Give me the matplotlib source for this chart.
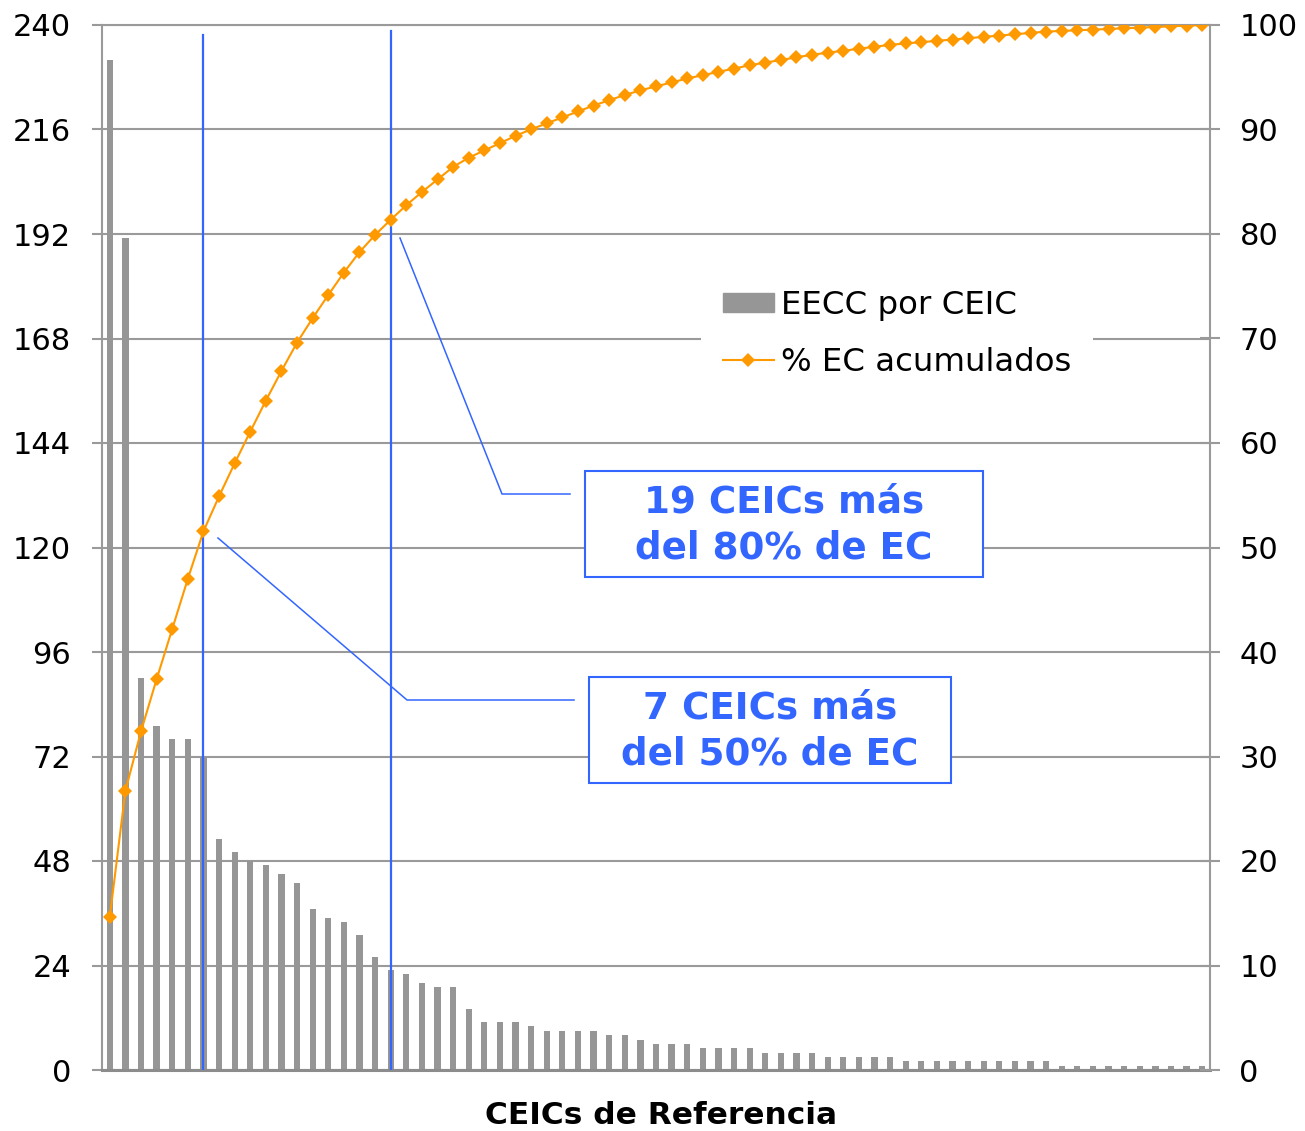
import numpy as np
import matplotlib
matplotlib.use("Agg")
import matplotlib.pyplot as plt
from matplotlib.lines import Line2D
from matplotlib.patches import Rectangle

# ---------------- data ----------------
eecc_por_ceic = [232, 191, 90, 79, 76, 76, 72, 53, 50, 48, 47, 45, 43, 37, 35, 34,
                 31, 26, 23, 22, 20, 19, 19, 14, 11, 11, 11, 10, 9, 9, 9, 9, 8, 8,
                 7, 6, 6, 6, 5, 5, 5, 5, 4, 4, 4, 4, 3, 3, 3, 3, 3,
                 2, 2, 2, 2, 2, 2, 2, 2, 2, 2,
                 1, 1, 1, 1, 1, 1, 1, 1, 1, 1]
left_ticks = [0, 24, 48, 72, 96, 120, 144, 168, 192, 216, 240]
right_ticks = [0, 10, 20, 30, 40, 50, 60, 70, 80, 90, 100]
series_names = ["EECC por CEIC", "% EC acumulados"]
x_label = "CEICs de Referencia"
n50 = 7     # CEICs que suman más del 50%
n80 = 19    # CEICs que suman más del 80%
box_texts = ["19 CEICs más\ndel 80% de EC", "7 CEICs más\ndel 50% de EC"]

vals = np.array(eecc_por_ceic, dtype=float)
cum_pct = np.cumsum(vals) / vals.sum() * 100
idx = np.arange(len(vals))

# ---------------- style ----------------
W, H = 1305, 1131
plt.rcParams['font.family'] = ['DejaVu Sans']
GRAY = '#969696'
GRID = '#9a9a9a'
ORANGE = '#FF9900'
BLUE = '#3366FF'

def fx(x):
    return x / W

def fy(y):
    return 1 - y / H

fig = plt.figure(figsize=(W / 100, H / 100), dpi=100)
ax = fig.add_axes([fx(102), fy(1070), fx(1210) - fx(102), fy(25) - fy(1070)])

ax.bar(idx, vals, width=0.4, color=GRAY, zorder=2)
ax.set_xlim(-0.5, len(vals) - 0.5)
ax.set_ylim(0, 240)
ax.set_yticks(left_ticks)
ax.set_xticks([])
ax.grid(axis='y', color=GRID, lw=1.5, zorder=0)
ax.set_axisbelow(True)
ax.tick_params(axis='y', direction='out', length=7.2, width=1.5, color=GRID,
               labelsize=22, pad=15)
for s in ['left', 'right', 'top']:
    ax.spines[s].set_color(GRID)
    ax.spines[s].set_linewidth(1.5)
ax.spines['bottom'].set_color('#8c8c8c')
ax.spines['bottom'].set_linewidth(2.2)

ax2 = ax.twinx()
ax2.set_ylim(0, 100)
ax2.set_yticks(right_ticks)
ax2.tick_params(axis='y', direction='inout', length=14.4, width=1.5, color=GRID,
                labelsize=22, pad=14)
for s in ax2.spines.values():
    s.set_visible(False)
ax2.plot(idx, cum_pct, color=ORANGE, lw=1.5, marker='D', ms=7.5,
         markeredgewidth=0, zorder=3)

# vertical markers at the 50% and 80% CEIC counts
ax.axvline(n50 - 1, ymin=0, ymax=0.990, color=BLUE, lw=1.6, zorder=5)
ax.axvline(n80 - 1, ymin=0, ymax=0.994, color=BLUE, lw=1.6, zorder=5)

# legend
bar_h = Rectangle((0, 0), 1, 1, color=GRAY)
line_h = Line2D([], [], color=ORANGE, lw=1.5, marker='D', ms=7.5, markeredgewidth=0)
leg = ax2.legend([bar_h, line_h], series_names, loc='center',
                 bbox_to_anchor=(fx(897), fy(334)), bbox_transform=fig.transFigure,
                 fontsize=23.3, frameon=True, fancybox=False, framealpha=1,
                 edgecolor='none', facecolor='white', handlelength=1.57,
                 handleheight=0.52, handletextpad=0.22, labelspacing=0.78,
                 borderpad=0.66, borderaxespad=0)
leg.set_zorder(6)

# leader lines
fig.add_artist(Line2D([fx(400), fx(502), fx(570)], [fy(238), fy(494), fy(494)],
                      color=BLUE, lw=1.1, zorder=7))
fig.add_artist(Line2D([fx(218), fx(407), fx(574)], [fy(538), fy(700), fy(700)],
                      color=BLUE, lw=1.1, zorder=7))

# annotation boxes
for (x0, y0, x1, y1), txt in zip([(585, 471, 983, 577), (589, 677, 951, 783)], box_texts):
    fig.add_artist(Rectangle((fx(x0), fy(y1)), fx(x1) - fx(x0), fy(y0) - fy(y1),
                             transform=fig.transFigure, facecolor='white',
                             edgecolor=BLUE, lw=1.5, zorder=8))
    fig.text(fx((x0 + x1) / 2), fy((y0 + y1) / 2 + 1), txt, ha='center', va='center',
             fontsize=26.8, fontweight='bold', color=BLUE, linespacing=1.33,
             zorder=9)

fig.text(fx(661), fy(1124), x_label, ha='center', va='baseline',
         fontsize=22.5, fontweight='bold', color='black')

fig.savefig('out.png', dpi=100)
